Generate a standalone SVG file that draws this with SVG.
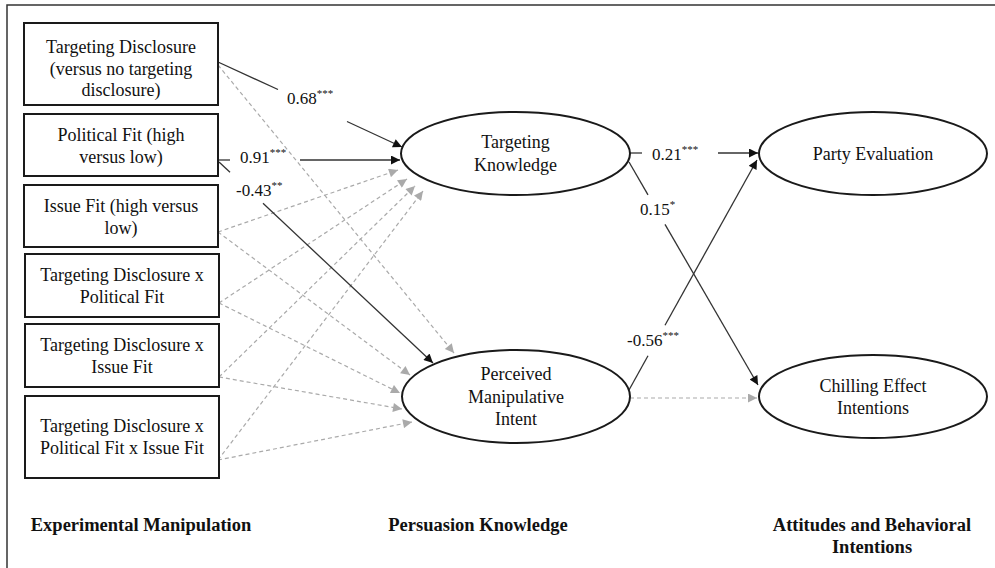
<svg xmlns="http://www.w3.org/2000/svg" width="995" height="568" viewBox="0 0 995 568">
<defs>
<style>
.box{fill:#fff;stroke:#1a1a1a;stroke-width:2}
.ell{fill:#fff;stroke:#1a1a1a;stroke-width:2}
.t{font-family:"Liberation Serif","Times New Roman",serif;font-size:18px;fill:#111;text-anchor:middle}
.c{font-family:"Liberation Serif","Times New Roman",serif;font-size:17px;fill:#111}
.s{font-size:11px}
.h{font-family:"Liberation Serif","Times New Roman",serif;font-size:18.5px;font-weight:bold;fill:#111;text-anchor:middle}
.sol{stroke:#333;stroke-width:1.3;fill:none}
.dash{stroke:#aaa;stroke-width:1.2;fill:none;stroke-dasharray:4 3}
</style>
<marker id="ab" viewBox="0 0 10 10" refX="10" refY="5" markerWidth="11" markerHeight="9" markerUnits="userSpaceOnUse" orient="auto"><path d="M0,0 L10,5 L0,10 z" fill="#111"/></marker>
<marker id="ag" viewBox="0 0 10 10" refX="10" refY="5" markerWidth="11" markerHeight="9" markerUnits="userSpaceOnUse" orient="auto"><path d="M0,0 L10,5 L0,10 z" fill="#aaa"/></marker>
</defs>
<rect x="7" y="5" width="1000" height="600" fill="#fff" stroke="#333" stroke-width="1.5"/>

<g id="connectors">
<line class="dash" x1="218" y1="65" x2="454" y2="353" marker-end="url(#ag)"/>
<line class="dash" x1="218" y1="232" x2="398" y2="170" marker-end="url(#ag)"/>
<line class="dash" x1="218" y1="232" x2="410" y2="375" marker-end="url(#ag)"/>
<line class="dash" x1="219" y1="303" x2="407" y2="179" marker-end="url(#ag)"/>
<line class="dash" x1="219" y1="303" x2="400" y2="393" marker-end="url(#ag)"/>
<line class="dash" x1="219" y1="377" x2="415" y2="186" marker-end="url(#ag)"/>
<line class="dash" x1="219" y1="377" x2="402" y2="409" marker-end="url(#ag)"/>
<line class="dash" x1="218" y1="460" x2="423" y2="191" marker-end="url(#ag)"/>
<line class="dash" x1="218" y1="460" x2="412" y2="422" marker-end="url(#ag)"/>
<line class="dash" x1="630" y1="398" x2="757" y2="398" marker-end="url(#ag)"/>

<line class="sol" x1="218" y1="62" x2="278" y2="89.5"/>
<line class="sol" x1="347" y1="121.5" x2="402" y2="147" marker-end="url(#ab)"/>
<line class="sol" x1="218" y1="160" x2="230" y2="160"/>
<line class="sol" x1="300" y1="160" x2="400" y2="160" marker-end="url(#ab)"/>
<line class="sol" x1="219" y1="162" x2="230" y2="172.3"/>
<line class="sol" x1="263" y1="203.3" x2="433" y2="363" marker-end="url(#ab)"/>
<line class="sol" x1="630" y1="153" x2="642" y2="153"/>
<line class="sol" x1="718" y1="153" x2="758" y2="153" marker-end="url(#ab)"/>
<line class="sol" x1="629" y1="162" x2="648" y2="194.9"/>
<line class="sol" x1="665" y1="224.3" x2="758" y2="385" marker-end="url(#ab)"/>
<line class="sol" x1="629" y1="390" x2="648" y2="355.8"/>
<line class="sol" x1="665" y1="325.2" x2="757" y2="160" marker-end="url(#ab)"/>

<text class="c" x="287" y="104">0.68<tspan class="s" dy="-7">***</tspan></text>
<text class="c" x="240" y="163">0.91<tspan class="s" dy="-7">***</tspan></text>
<text class="c" x="236" y="196">-0.43<tspan class="s" dy="-7">**</tspan></text>
<text class="c" x="652" y="160">0.21<tspan class="s" dy="-7">***</tspan></text>
<text class="c" x="640" y="215">0.15<tspan class="s" dy="-7">*</tspan></text>
<text class="c" x="627" y="346">-0.56<tspan class="s" dy="-7">***</tspan></text>
</g>

<g id="n-td">
<rect class="box" x="24" y="23" width="194" height="82"/>
<text class="t" x="121" y="53">Targeting Disclosure</text>
<text class="t" x="121" y="75">(versus no targeting</text>
<text class="t" x="121" y="96">disclosure)</text>
</g>
<g id="n-pf">
<rect class="box" x="24" y="114" width="194" height="62"/>
<text class="t" x="121" y="141">Political Fit (high</text>
<text class="t" x="121" y="163">versus low)</text>
</g>
<g id="n-if">
<rect class="box" x="24" y="185" width="194" height="62"/>
<text class="t" x="121" y="212">Issue Fit (high versus</text>
<text class="t" x="121" y="234">low)</text>
</g>
<g id="n-tdpf">
<rect class="box" x="25" y="254" width="194" height="63"/>
<text class="t" x="122" y="281">Targeting Disclosure x</text>
<text class="t" x="122" y="303">Political Fit</text>
</g>
<g id="n-tdif">
<rect class="box" x="25" y="324" width="194" height="63"/>
<text class="t" x="122" y="351">Targeting Disclosure x</text>
<text class="t" x="122" y="373">Issue Fit</text>
</g>
<g id="n-tdpfif">
<rect class="box" x="25" y="396" width="194" height="82"/>
<text class="t" x="122" y="432">Targeting Disclosure x</text>
<text class="t" x="122" y="454">Political Fit x Issue Fit</text>
</g>

<g id="n-tk">
<ellipse class="ell" cx="515.5" cy="153.5" rx="114.5" ry="41.5"/>
<text class="t" x="515.5" y="148">Targeting</text>
<text class="t" x="515.5" y="171">Knowledge</text>
</g>
<g id="n-pmi">
<ellipse class="ell" cx="516" cy="396.5" rx="114" ry="46.5"/>
<text class="t" x="516" y="380">Perceived</text>
<text class="t" x="516" y="403">Manipulative</text>
<text class="t" x="516" y="425">Intent</text>
</g>
<g id="n-pe">
<ellipse class="ell" cx="873" cy="153.5" rx="114" ry="41.5"/>
<text class="t" x="873" y="160">Party Evaluation</text>
</g>
<g id="n-ce">
<ellipse class="ell" cx="873" cy="396.5" rx="114" ry="41.5"/>
<text class="t" x="873" y="392">Chilling Effect</text>
<text class="t" x="873" y="414">Intentions</text>
</g>

<g id="headers">
<text class="h" x="141" y="531">Experimental Manipulation</text>
<text class="h" x="478" y="531">Persuasion Knowledge</text>
<text class="h" x="872" y="531">Attitudes and Behavioral</text>
<text class="h" x="872" y="553">Intentions</text>
</g>
</svg>
